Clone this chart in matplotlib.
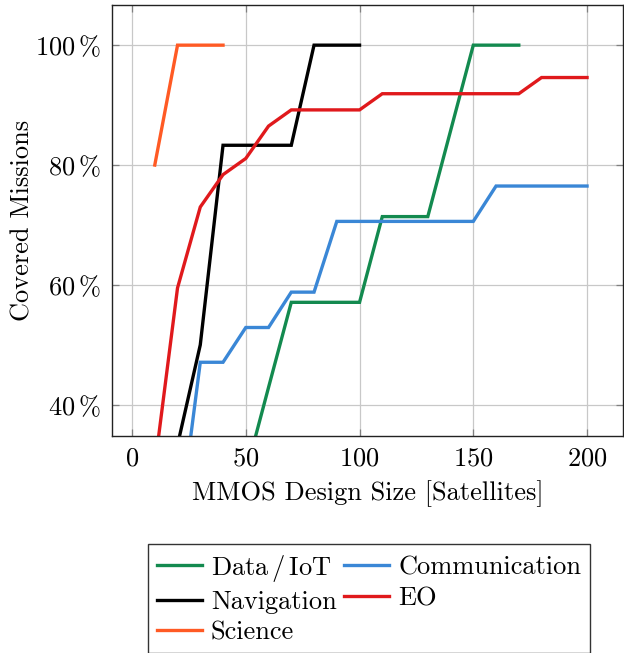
import matplotlib
matplotlib.use("Agg")
import matplotlib.pyplot as plt

plt.rcParams['font.family'] = 'serif'
plt.rcParams['font.serif'] = ['cmr10', 'DejaVu Serif']
plt.rcParams['mathtext.fontset'] = 'cm'
plt.rcParams['axes.unicode_minus'] = False
plt.rcParams['axes.formatter.use_mathtext'] = True

# Data (covered missions in %)
data_x = [50, 60, 70, 80, 90, 100, 110, 120, 130, 140, 150, 160, 170]
data_y = [28.6, 42.9, 57.1, 57.1, 57.1, 57.1, 71.4, 71.4, 71.4, 85.7, 100, 100, 100]

nav_x = [20, 30, 40, 50, 60, 70, 80, 90, 100]
nav_y = [33.3, 50.0, 83.3, 83.3, 83.3, 83.3, 100, 100, 100]

sci_x = [10, 20, 30, 40]
sci_y = [80, 100, 100, 100]

com_x = [20, 30, 40, 50, 60, 70, 80, 90, 100, 110, 120, 130, 140, 150, 160, 170, 180, 190, 200]
com_y = [17.6, 47.1, 47.1, 52.9, 52.9, 58.8, 58.8, 70.6, 70.6, 70.6, 70.6, 70.6, 70.6, 70.6,
         76.5, 76.5, 76.5, 76.5, 76.5]

eo_x = [10, 20, 30, 40, 50, 60, 70, 80, 90, 100, 110, 120, 130, 140, 150, 160, 170, 180, 190, 200]
eo_y = [29.7, 59.5, 73.0, 78.4, 81.1, 86.5, 89.2, 89.2, 89.2, 89.2, 91.9, 91.9, 91.9, 91.9,
        91.9, 91.9, 91.9, 94.6, 94.6, 94.6]

x_ticks = [0, 50, 100, 150, 200]
y_ticks = [40, 60, 80, 100]
y_tick_labels = [r"$40\,\%$", r"$60\,\%$", r"$80\,\%$", r"$100\,\%$"]

FS = 19

fig = plt.figure(figsize=(6.24, 6.53), dpi=100)
ax = fig.add_axes([112/624, 1-436/653, (623-112)/624, (436-5)/653])

lw = 2.4
l_data, = ax.plot(data_x, data_y, color='#138a4f', lw=lw, label=r'Data$\,/\,$IoT', solid_joinstyle='miter')
l_nav, = ax.plot(nav_x, nav_y, color='black', lw=lw, label='Navigation', solid_joinstyle='miter')
l_sci, = ax.plot(sci_x, sci_y, color='#ff5a24', lw=lw, label='Science', solid_joinstyle='miter')
l_com, = ax.plot(com_x, com_y, color='#3a87d6', lw=lw, label='Communication', solid_joinstyle='miter')
l_eo, = ax.plot(eo_x, eo_y, color='#e0191c', lw=lw, label='EO', solid_joinstyle='miter')

ax.set_xlim(-8.8, 215.8)
ax.set_ylim(34.8, 106.7)
ax.set_xticks(x_ticks)
ax.set_xticklabels([f"${v}$" for v in x_ticks])
ax.set_yticks(y_ticks)
ax.set_yticklabels(y_tick_labels)
ax.grid(True, color='#c8c8c8', lw=0.9)
ax.set_axisbelow(True)
ax.tick_params(direction='in', length=5, width=0.9, color='#808080', top=True, right=True,
               labelsize=FS, pad=8)
for s in ax.spines.values():
    s.set_linewidth(1.0)
    s.set_color('#222222')

ax.set_xlabel('MMOS Design Size [Satellites]', fontsize=FS, labelpad=7)
ax.set_ylabel('Covered Missions', fontsize=FS, labelpad=0)

leg = fig.legend(handles=[l_data, l_nav, l_sci, l_com, l_eo], ncol=2,
                 loc='upper left', bbox_to_anchor=(148/624, 1-544/653),
                 fontsize=FS, frameon=True, fancybox=False, edgecolor='black',
                 handlelength=1.7, handletextpad=0.35, columnspacing=0.3,
                 labelspacing=0.25, borderpad=0.33, borderaxespad=0)
leg.get_frame().set_linewidth(1.0)

fig.savefig('out.png', dpi=100)
